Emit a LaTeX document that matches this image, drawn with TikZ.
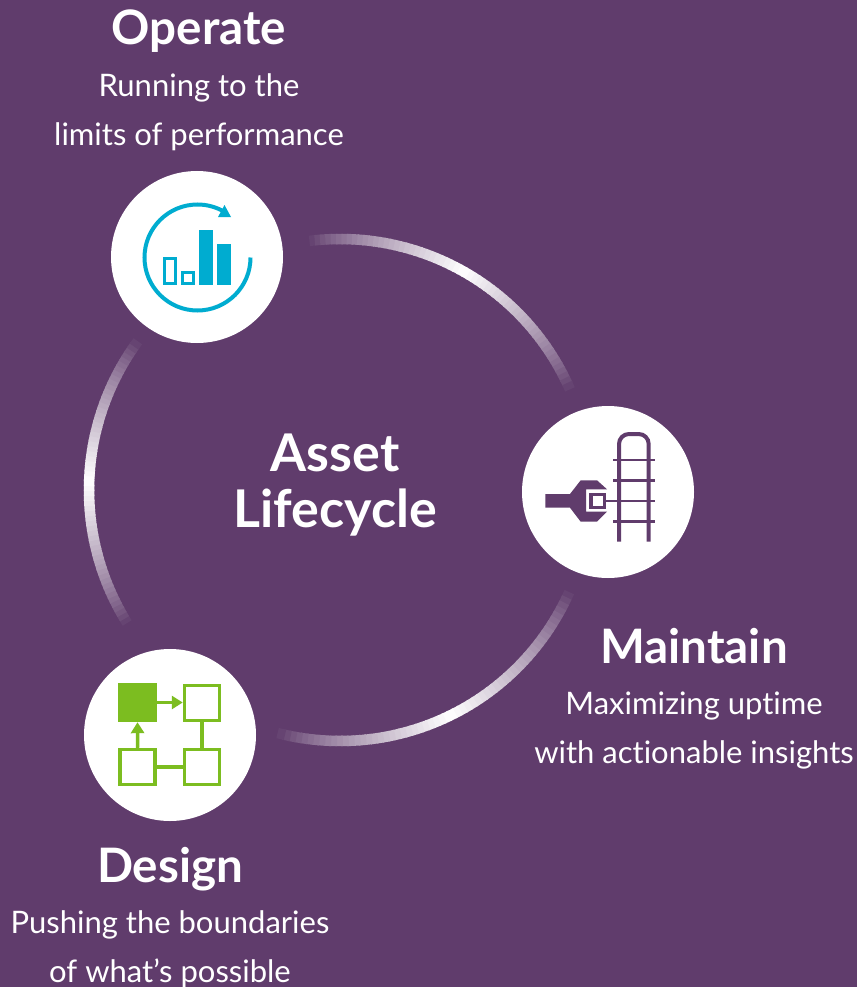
\documentclass[tikz,border=0pt]{standalone}
\usepackage{fontspec}
\usetikzlibrary{positioning,arrows.meta}
\setmainfont[Ligatures=NoCommon]{Lato}
\definecolor{bgpurple}{HTML}{603C6C}
\definecolor{opblue}{HTML}{00ACD0}
\definecolor{desgreen}{HTML}{7CBD20}
\tikzset{
  disc/.style={circle,fill=white,minimum size=172pt,inner sep=0pt},
  head/.style={text=white,font=\fontsize{47.5}{50}\selectfont\bfseries,inner sep=0pt,text height=34pt,text depth=10pt,anchor=base},
  sub/.style={text=white,font=\fontsize{31}{49}\selectfont,align=center,inner sep=0pt},
  arcpiece/.style={line width=10.5pt},
  opbar/.style={draw=opblue,line width=3pt,fill=white},
  opfill/.style={fill=opblue},
  desbox/.style={draw=desgreen,line width=3.5pt,fill=white,minimum size=35pt,inner sep=0pt},
  desfill/.style={fill=desgreen,minimum size=39pt,inner sep=0pt},
  deslink/.style={draw=desgreen,line width=3.5pt},
  desarrow/.style={deslink,-{Triangle[length=11pt,width=13pt]}},
  mtline/.style={draw=bgpurple,line width=4pt},
}
\begin{document}
\begin{tikzpicture}[x=1pt,y=-1pt]
  \fill[bgpurple] (0,0) rectangle (857,987);
  \useasboundingbox (0,0) rectangle (857,987);
  % ring pieces
  \coordinate (ringc) at (340,490);
  \foreach \from/\to in {-97/-24,24/104,148/216}{
    \foreach \i in {0,...,59}{
      \pgfmathsetmacro{\aa}{\from+(\to-\from)*\i/60}
      \pgfmathsetmacro{\ab}{\from+(\to-\from)*(\i+1.3)/60}
      \pgfmathsetmacro{\pct}{100*pow(1-abs(2*(\i+0.5)/60-1),0.8)}
      \draw[arcpiece,white!\pct!bgpurple] ([shift={(\aa:251)}]ringc) arc[start angle=\aa,end angle=\ab,radius=251];
    }
  }
  % discs
  \node[disc] (operate) at (197,257) {};
  \node[disc] (maintain) at (608,492) {};
  \node[disc] (design) at (170,735) {};
  \node[text=white,font=\fontsize{52}{56}\selectfont\bfseries,align=center,inner sep=0pt] (asset) at (335,485) {Asset\\Lifecycle};
  % labels
  \node[head] (opt) at (199,45) {Operate};
  \node[sub,below=18pt of opt] (ops) {Running to the\\limits of performance};
  \node[head] (mat) at (694,663) {Maintain};
  \node[sub,below=18pt of mat] (mas) {Maximizing uptime\\with actionable insights};
  \node[head] (det) at (170,882) {Design};
  \node[sub,below=18pt of det] (des) {Pushing the boundaries\\of what’s possible};
  % operate icon
  \draw[draw=opblue,line width=4pt] (250.5,257.5) arc[start angle=0,end angle=300,radius=53];
  \fill[opblue] (218,217) -- (231,217) -- (224.5,205) -- cycle;
  \draw[opbar] (164.5,258.8) rectangle (175.8,283.5);
  \draw[opbar] (182.5,272.5) rectangle (193.5,283.5);
  \fill[opfill] (199,230) rectangle (213,285);
  \fill[opfill] (217,244) rectangle (231,285);
  % maintain icon
  \draw[mtline] (619,541.7) -- (619,444) arc[start angle=180,end angle=270,radius=10] -- (638.7,434) arc[start angle=270,end angle=360,radius=10] -- (648.7,541.7);
  \foreach \yy in {459.7,480.3,501,521.3}{
    \draw[mtline,line width=2.4pt] (613,\yy) -- (654.7,\yy);
  }
  \fill[bgpurple] (545.3,494) -- (570,494) -- (580.7,480.3) -- (597,480.3) -- (607,489.3) -- (586,489.3) -- (586,511.7) -- (607,511.7) -- (597,521.7) -- (580.7,521.7) -- (570,507.7) -- (545.3,507.7) -- cycle;
  \draw[draw=bgpurple,line width=3.3pt] (591,494.4) rectangle (604.3,507.5);
  \draw[draw=bgpurple,line width=2.4pt] (606,501) -- (619,501);
  % design icon
  \node[desfill] (dtl) at (137.5,702.5) {};
  \node[desbox] (dtr) at (202,703) {};
  \node[desbox] (dbl) at (137.7,767) {};
  \node[desbox] (dbr) at (202,767) {};
  \draw[deslink] (dbl) -- (dbr);
  \draw[deslink] (dtr) -- (dbr);
  \draw[desarrow] (dtl.east) -- (dtl.east -| dtr.west);
  \draw[desarrow] (dbl.north) -- (dtl.south);
\end{tikzpicture}
\end{document}
